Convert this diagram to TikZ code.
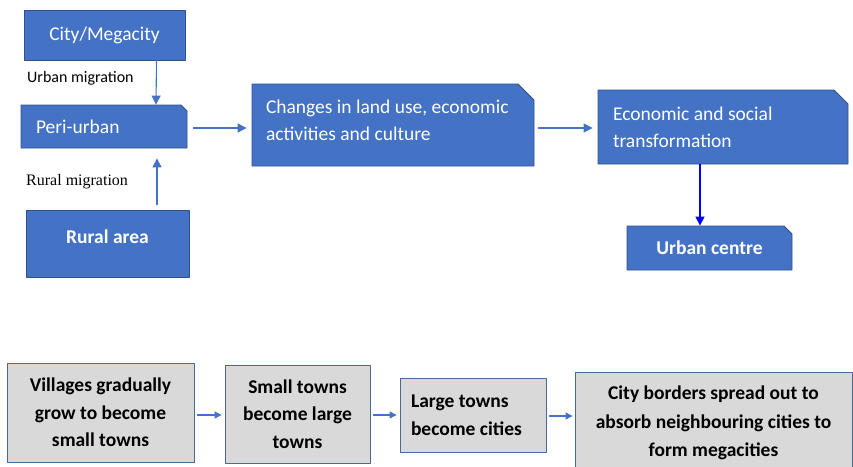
\documentclass[tikz,border=0pt]{standalone}
\usepackage{fontspec}
\setmainfont{Carlito}
\newfontfamily\timesfont{Liberation Serif}
\usepackage{tikz}
\usetikzlibrary{arrows.meta,shapes.misc}
\definecolor{boxblue}{HTML}{4472C4}
\definecolor{boxedge}{HTML}{2F528F}
\definecolor{boxgrey}{HTML}{D9D9D9}
\definecolor{greyedge}{HTML}{4A6A96}

\begin{document}
\begin{tikzpicture}[line cap=round,line join=round,x=1pt,y=-1pt,
        bluebox/.style={draw=boxedge,line width=0.8pt,fill=boxblue,text=white,inner sep=0pt,
            font=\fontsize{19.5}{27}\selectfont},
        snip/.style={chamfered rectangle,chamfered rectangle corners=north east,
            chamfered rectangle xsep=#1,chamfered rectangle ysep=#1},
        greybox/.style={draw=greyedge,line width=0.9pt,fill=boxgrey,text=black,inner sep=0pt,
            align=flush center,font=\bfseries\fontsize{19.5}{27.5}\selectfont},
        arr/.style={draw=boxblue,line width=1.1pt,-{Triangle[length=9pt,width=9pt]}},
        smallarr/.style={draw=boxblue,line width=1.1pt,-{Triangle[length=7pt,width=7pt]}}]
    \useasboundingbox (0,0) rectangle (853,466);
    \node[bluebox,minimum width=161,minimum height=50] (city) at (104.5,35) {City/Megacity};
    \node[bluebox,snip=3pt,minimum width=166,minimum height=43,text width=136,align=flush left]
        (peri) at (104,126.5) {Peri-urban};
    \node[bluebox,minimum width=163,minimum height=67,text depth=14pt,font=\bfseries\fontsize{19.5}{27}\selectfont]
        (rural) at (107.5,243.5) {Rural area};
    \node[bluebox,snip=8pt,minimum width=282,minimum height=82,text width=254,align=flush left,text depth=36pt]
        (changes) at (393,125) {Changes in land use, economic\\activities and culture};
    \node[bluebox,snip=7pt,minimum width=250,minimum height=74,text width=220,align=flush left]
        (econ) at (723,127) {Economic and social\\transformation};
    \node[bluebox,snip=4pt,minimum width=165,minimum height=44,font=\bfseries\fontsize{19.5}{27}\selectfont]
        (urban) at (709.5,248) {Urban centre};

    \node[anchor=west,inner sep=0pt,font=\fontsize{16}{18}\selectfont] (urbanmig) at (27,78) {Urban migration};
    \node[anchor=west,inner sep=0pt,font=\timesfont\fontsize{16}{18}\selectfont] (ruralmig) at (26,182) {Rural migration};

    \draw[arr] ([xshift=52]city.south) -- ([xshift=52]peri.north);
    \draw[arr,shorten <=5pt,shorten >=10pt] ([xshift=49.5]rural.north) -- ([xshift=49.5]rural.north |- peri.south);
    \draw[arr,shorten <=6pt,shorten >=5pt] ([yshift=-1.5]peri.east) -- ([yshift=-1.5]peri.east -| changes.west);
    \draw[arr,shorten <=4pt,shorten >=5pt] ([yshift=-3]changes.east) -- ([yshift=-3]changes.east -| econ.west);
    \draw[draw=blue,line width=1.4pt,-{Triangle[length=9pt,width=9pt]}]
        ([xshift=-23]econ.south) -- ([xshift=-23]econ.south |- urban.north);

    \node[greybox,minimum width=187,minimum height=99] (villages) at (100.5,412.5)
        {Villages gradually\\grow to become\\small towns};
    \node[greybox,minimum width=145,minimum height=98] (smalltowns) at (297.5,414)
        {Small towns\\become large\\towns};
    \node[greybox,minimum width=146,minimum height=74,text width=124,align=flush left] (largetowns) at (473,415)
        {Large towns\\become cities};
    \node[greybox,minimum width=277,minimum height=101,font=\bfseries\fontsize{19.5}{28.5}\selectfont]
        (borders) at (713.5,423) {City borders spread out to\\absorb neighbouring cities to\\form megacities};

    \draw[smallarr,shorten <=3pt,shorten >=3pt] ([yshift=-2.5]villages.east) -- ([yshift=-2.5]villages.east -| smalltowns.west);
    \draw[smallarr,shorten <=3pt,shorten >=3pt] ([yshift=-1]smalltowns.east) -- ([yshift=-1]smalltowns.east -| largetowns.west);
    \draw[smallarr,shorten <=3pt,shorten >=2pt] ([yshift=-1]largetowns.east) -- ([yshift=-1]largetowns.east -| borders.west);
\end{tikzpicture}
\end{document}
